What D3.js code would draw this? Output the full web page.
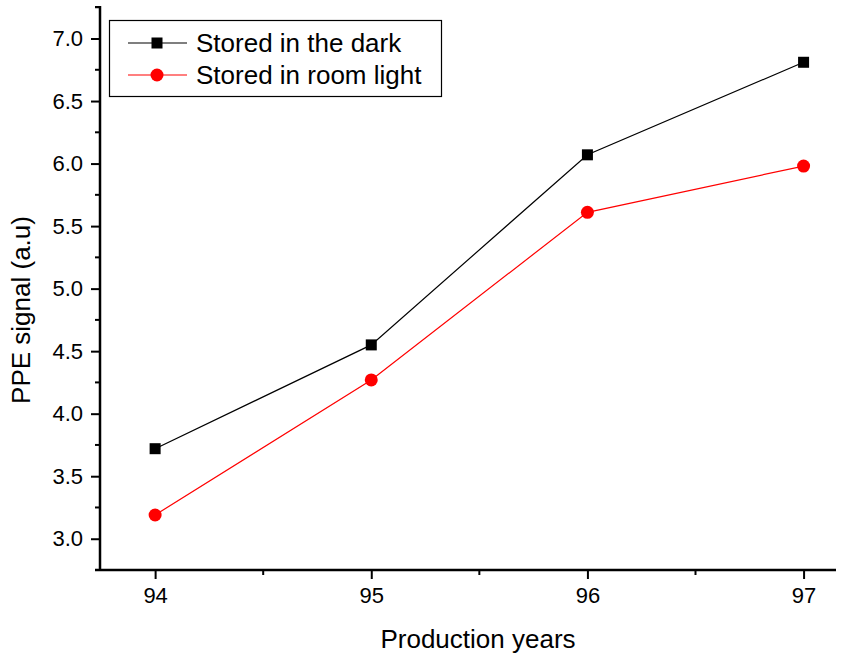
<!DOCTYPE html>
<html>
<head>
<meta charset="utf-8">
<script src="https://cdn.jsdelivr.net/npm/d3@7"></script>
<style>
  body { margin: 0; background: #fff; }
  text { font-family: "Liberation Sans", Arial, sans-serif; fill: #000; }
</style>
</head>
<body>
<div id="chart"></div>
<script>
// data
const years = [94, 95, 96, 97];
const darkValues = [3.72, 4.55, 6.07, 6.81];
const lightValues = [3.19, 4.27, 5.61, 5.98];
const seriesNames = ["Stored in the dark", "Stored in room light"];
const yTicks = [3.0, 3.5, 4.0, 4.5, 5.0, 5.5, 6.0, 6.5, 7.0];

const width = 845;
const height = 656;
const plotLeft = 100, plotRight = 836, plotTop = 6, plotBottom = 570;

const svg = d3.select("#chart")
    .append("svg")
    .attr("width", width)
    .attr("height", height);

const x = d3.scaleLinear().domain([93.745, 97.15]).range([plotLeft, plotRight]);
const y = d3.scaleLinear().domain([2.75, 7.26]).range([plotBottom, plotTop]);

//x axis with major and minor ticks
const xAxis = svg.append("g").attr("transform", `translate(0,${plotBottom})`);
xAxis.call(d3.axisBottom(x).tickValues(years).tickSize(9).tickPadding(8).tickFormat(d3.format("d")))
xAxis.selectAll(".tick line").attr("stroke-width", 2);
xAxis.select(".domain").remove();
xAxis.selectAll("text").style("font-size", "22px");
xAxis.selectAll(".minor")
    .data([94.5, 95.5, 96.5])
    .enter().append("line")
    .attr("x1", d => x(d)).attr("x2", d => x(d))
    .attr("y1", 0).attr("y2", 5)
    .attr("stroke", "#000").attr("stroke-width", 2);
xAxis.append("line")
    .attr("x1", plotLeft - 5).attr("x2", plotRight)
    .attr("y1", 0).attr("y2", 0)
    .attr("stroke", "#000").attr("stroke-width", 2.5);

//y axis
const yAxis = svg.append("g").attr("transform", `translate(${plotLeft},0)`);
yAxis.call(d3.axisLeft(y).tickValues(yTicks).tickSize(9).tickPadding(8).tickFormat(d3.format(".1f")))
yAxis.selectAll(".tick line").attr("stroke-width", 2);
yAxis.select(".domain").remove();
yAxis.selectAll("text").style("font-size", "22px");
yAxis.selectAll(".minor")
    .data(yTicks.map(d => d + 0.25).concat([2.75]))
    .enter().append("line")
    .attr("y1", d => y(d)).attr("y2", d => y(d))
    .attr("x1", 0).attr("x2", -5)
    .attr("stroke", "#000").attr("stroke-width", 2);
yAxis.append("line")
    .attr("x1", 0).attr("x2", 0)
    .attr("y1", plotTop).attr("y2", plotBottom)
    .attr("stroke", "#000").attr("stroke-width", 2.5);
yAxis.append("line")
    .attr("x1", -5).attr("x2", 0)
    .attr("y1", plotTop + 1).attr("y2", plotTop + 1)
    .attr("stroke", "#000").attr("stroke-width", 2);

//axis titles
svg.append("text")
    .attr("x", 478)
    .attr("y", 648)
    .attr("text-anchor", "middle")
    .style("font-size", "26px")
    .text("Production years");

svg.append("text")
    .attr("transform", "translate(30,310) rotate(-90)")
    .attr("text-anchor", "middle")
    .style("font-size", "26px")
    .text("PPE signal (a.u)");

//lines and markers
const line = d3.line().x((d, i) => x(years[i])).y(d => y(d));

svg.append("path").datum(darkValues)
    .attr("d", line).attr("fill", "none").attr("stroke", "#000").attr("stroke-width", 1.2);
svg.append("path").datum(lightValues)
    .attr("d", line).attr("fill", "none").attr("stroke", "red").attr("stroke-width", 1.2);

svg.selectAll(".sq").data(darkValues).enter().append("rect")
    .attr("x", (d, i) => x(years[i]) - 5.5)
    .attr("y", d => y(d) - 5.5)
    .attr("width", 11).attr("height", 11)
    .attr("fill", "#000");

svg.selectAll(".dot").data(lightValues).enter().append("circle")
    .attr("cx", (d, i) => x(years[i]))
    .attr("cy", d => y(d))
    .attr("r", 6.5)
    .attr("fill", "red");

//legend
const legend = svg.append("g");
legend.append("rect")
    .attr("x", 109.5).attr("y", 20.5)
    .attr("width", 332).attr("height", 76)
    .attr("fill", "#fff").attr("stroke", "#000").attr("stroke-width", 1.2);

const rows = legend.selectAll(".row").data(seriesNames).enter().append("g")
    .attr("transform", (d, i) => `translate(0,${43 + i * 32})`);
rows.append("line")
    .attr("x1", 128).attr("x2", 187).attr("y1", 0).attr("y2", 0)
    .attr("stroke", (d, i) => i === 0 ? "#000" : "red").attr("stroke-width", 1.2);
rows.filter((d, i) => i === 0).append("rect")
    .attr("x", 151.5).attr("y", -5.5).attr("width", 11).attr("height", 11).attr("fill", "#000");
rows.filter((d, i) => i === 1).append("circle")
    .attr("cx", 157).attr("cy", 0).attr("r", 6.5).attr("fill", "red");
rows.append("text")
    .attr("x", 196).attr("y", 9)
    .style("font-size", "26px")
    .text(d => d);
</script>
</body>
</html>
